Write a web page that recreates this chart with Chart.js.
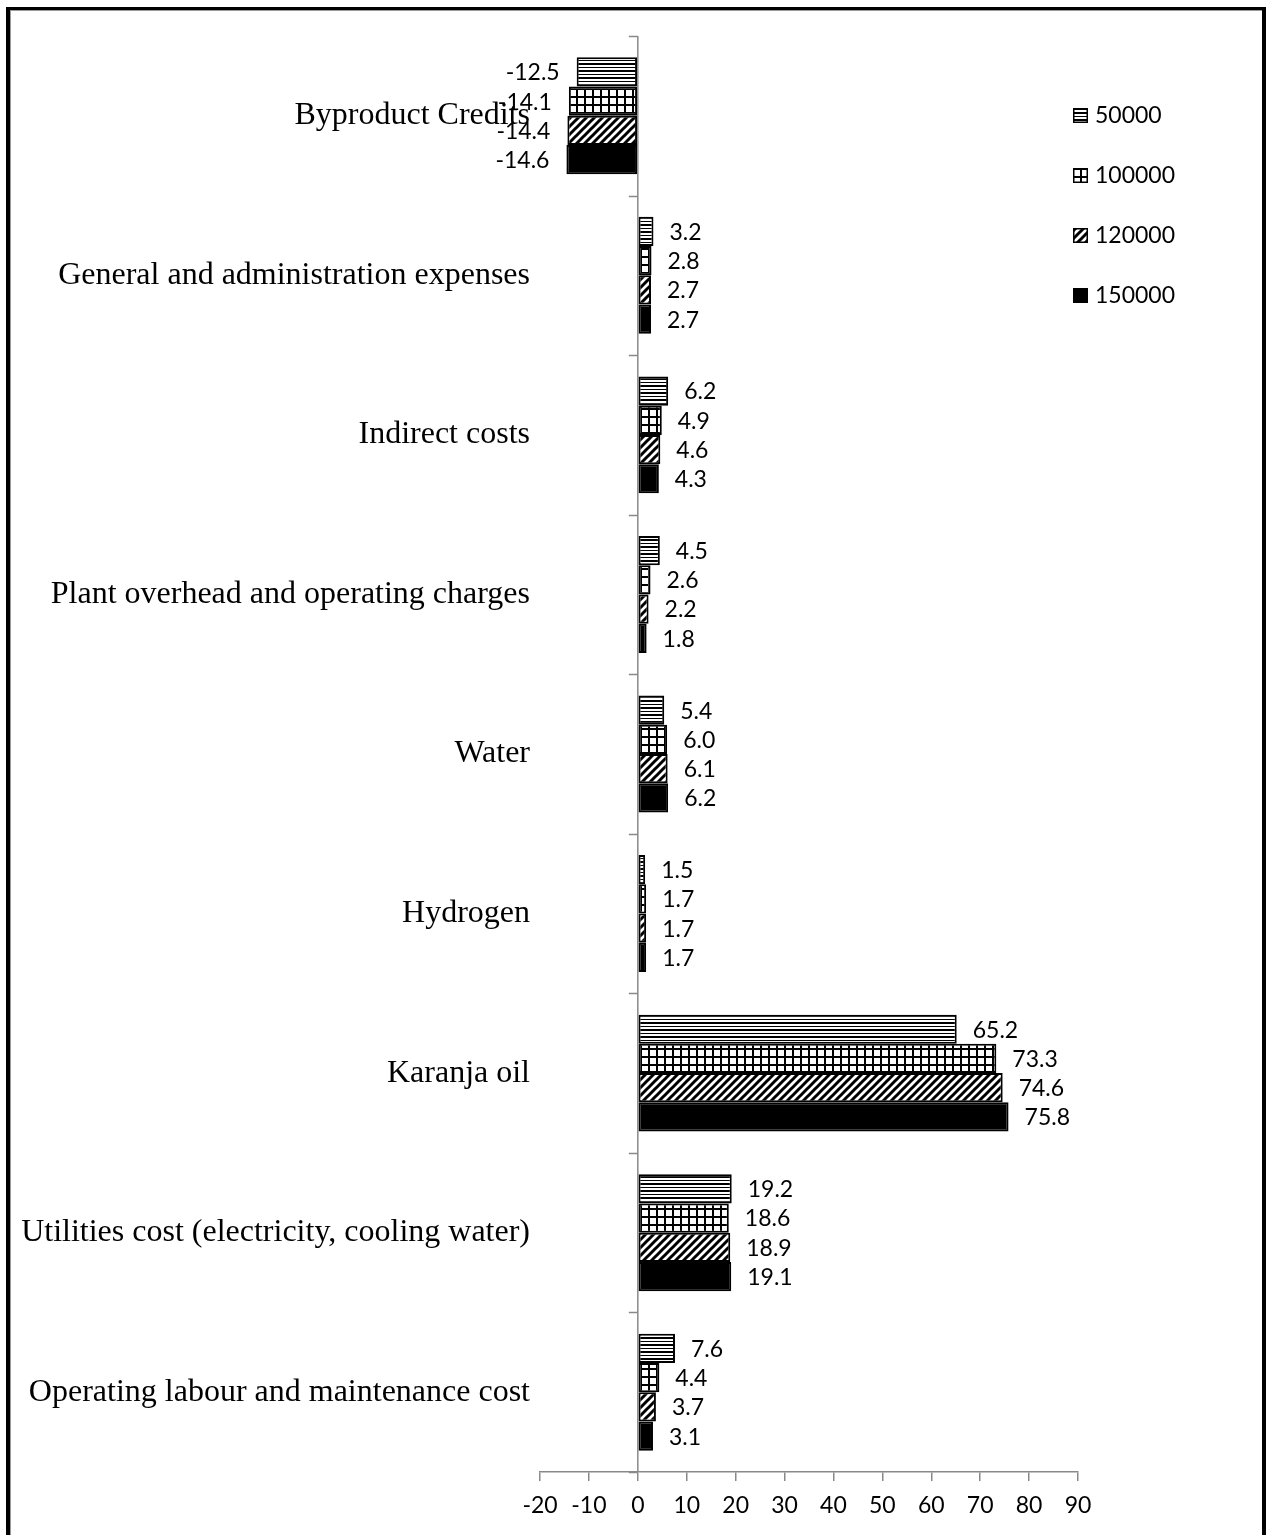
<!DOCTYPE html>
<html>
<head>
<meta charset="utf-8">
<script src="https://cdn.jsdelivr.net/npm/chart.js@4.4.1/dist/chart.umd.min.js"></script>
<style>
  html, body { margin: 0; padding: 0; background: #fff; }
  #wrap { position: relative; width: 1266px; height: 1535px; overflow: hidden; }
  #frame {
    position: absolute; left: 6px; top: 7px; width: 1260px; height: 1600px;
    border: solid #000; border-width: 3px 4px 0 4px; box-sizing: border-box;
    box-shadow: inset 1px 1px 0 #9a9a9a; pointer-events: none;
  }
  canvas { position: absolute; left: 0; top: 0; }
</style>
</head>
<body>
<div id="wrap">
  <canvas id="chart" width="1266" height="1535"></canvas>
  <div id="frame"></div>
</div>
<script>
// Cost items, top to bottom
const categories = [
  'Byproduct Credits',
  'General and administration expenses',
  'Indirect costs',
  'Plant overhead and operating charges',
  'Water',
  'Hydrogen',
  'Karanja oil',
  'Utilities cost (electricity, cooling water)',
  'Operating labour and maintenance cost'
];

// Plant capacities (series names)
const seriesNames = ['50000', '100000', '120000', '150000'];

// Cost contribution per capacity
const cost50000  = [-12.5, 3.2, 6.2, 4.5, 5.4, 1.5, 65.2, 19.2, 7.6];
const cost100000 = [-14.1, 2.8, 4.9, 2.6, 6.0, 1.7, 73.3, 18.6, 4.4];
const cost120000 = [-14.4, 2.7, 4.6, 2.2, 6.1, 1.7, 74.6, 18.9, 3.7];
const cost150000 = [-14.6, 2.7, 4.3, 1.8, 6.2, 1.7, 75.8, 19.1, 3.1];

// Value axis range
const axisMin = -20;
const axisMax = 90;
const axisStep = 10;

const seriesValues = [cost50000, cost100000, cost120000, cost150000];

// ---- fill patterns ----
function makeTile(w, h, draw) {
  const c = document.createElement('canvas');
  c.width = w; c.height = h;
  const g = c.getContext('2d');
  g.fillStyle = '#fff';
  g.fillRect(0, 0, w, h);
  g.fillStyle = '#000';
  g.strokeStyle = '#000';
  draw(g);
  return document.getElementById('chart').getContext('2d').createPattern(c, 'repeat');
}
const hLines = makeTile(7, 7, g => { g.fillRect(0, 0, 7, 2); g.fillRect(0, 4, 7, 1); });
const gridFill = makeTile(8, 8, g => { g.fillRect(0, 0, 8, 2); g.fillRect(0, 0, 2, 8); });
const diagFill = makeTile(8, 8, g => {
  g.lineWidth = 3;
  [0, 8, 16].forEach(c => {
    g.beginPath(); g.moveTo(c + 2, -2); g.lineTo(c - 10, 10); g.stroke();
  });
});
const solidFill = '#000';
const fills = [hLines, gridFill, diagFill, solidFill];

const axisGrey = '#898989';
const numFont = 'Lato, "Open Sans", sans-serif';

// zero line with category tick marks
const zeroAxis = {
  id: 'zeroAxis',
  beforeDatasetsDraw(chart) {
    const { ctx, chartArea, scales } = chart;
    const x0 = scales.x.getPixelForValue(0);
    const n = categories.length;
    const band = (chartArea.bottom - chartArea.top) / n;
    ctx.save();
    ctx.strokeStyle = axisGrey;
    ctx.lineWidth = 1.5;
    ctx.beginPath();
    ctx.moveTo(x0, chartArea.top);
    ctx.lineTo(x0, chartArea.bottom);
    for (let i = 0; i <= n; i++) {
      const y = Math.round(chartArea.top + i * band) + 0.5;
      ctx.moveTo(x0 - 9, y);
      ctx.lineTo(x0, y);
    }
    ctx.stroke();
    ctx.restore();
  }
};

// value labels beside each bar end
const valueLabels = {
  id: 'valueLabels',
  afterDatasetsDraw(chart) {
    const { ctx } = chart;
    ctx.save();
    ctx.font = '23px ' + numFont;
    ctx.fillStyle = '#000';
    ctx.textBaseline = 'middle';
    chart.data.datasets.forEach((ds, di) => {
      const meta = chart.getDatasetMeta(di);
      meta.data.forEach((bar, i) => {
        const v = ds.data[i];
        const txt = v.toFixed(1);
        if (v >= 0) {
          ctx.textAlign = 'left';
          ctx.fillText(txt, bar.x + 16, bar.y + 1);
        } else {
          ctx.textAlign = 'right';
          ctx.fillText(txt, bar.x - 17, bar.y + 1);
        }
      });
    });
    ctx.restore();
  }
};

// series key at the upper right
const seriesKey = {
  id: 'seriesKey',
  afterDraw(chart) {
    const { ctx, chartArea } = chart;
    const boxX = chartArea.right - 5;
    ctx.save();
    ctx.font = '23px ' + numFont;
    ctx.textBaseline = 'middle';
    ctx.textAlign = 'left';
    chart.data.datasets.forEach((ds, i) => {
      const cy = chartArea.top + 79 + i * 60;
      ctx.fillStyle = ds.backgroundColor;
      ctx.fillRect(boxX, cy - 7, 15, 15);
      ctx.strokeStyle = '#000';
      ctx.lineWidth = 1.5;
      ctx.strokeRect(boxX + 0.75, cy - 6.25, 13.5, 13.5);
      ctx.fillStyle = '#000';
      ctx.fillText(ds.label, boxX + 22, cy + 1);
    });
    ctx.restore();
  }
};

new Chart(document.getElementById('chart'), {
  type: 'bar',
  data: {
    labels: categories,
    datasets: seriesNames.map((name, i) => ({
      label: name,
      data: seriesValues[i],
      backgroundColor: fills[i],
      borderColor: '#000',
      borderWidth: 2,
      borderSkipped: false,
      barPercentage: 1,
      categoryPercentage: 0.733
    }))
  },
  options: {
    indexAxis: 'y',
    responsive: false,
    animation: false,
    devicePixelRatio: 1,
    layout: { padding: { top: 36, right: 188, left: 0, bottom: 0 } },
    plugins: {
      legend: { display: false },
      tooltip: { enabled: false }
    },
    scales: {
      y: {
        position: 'left',
        grid: { display: false, drawTicks: false },
        border: { display: false },
        ticks: {
          padding: 10,
          color: '#000',
          autoSkip: false,
          font: { family: '"Liberation Serif", "Times New Roman", serif', size: 32 }
        },
        afterFit(scale) { scale.width = 540; }
      },
      x: {
        min: axisMin,
        max: axisMax,
        grid: { drawOnChartArea: false, color: axisGrey, lineWidth: 1.5, tickLength: 9 },
        border: { color: axisGrey, width: 1.5 },
        ticks: {
          stepSize: axisStep,
          padding: 11,
          color: '#000',
          font: { family: numFont, size: 23 }
        },
        afterFit(scale) { scale.height = 63; }
      }
    }
  },
  plugins: [zeroAxis, valueLabels, seriesKey]
});
</script>
</body>
</html>
